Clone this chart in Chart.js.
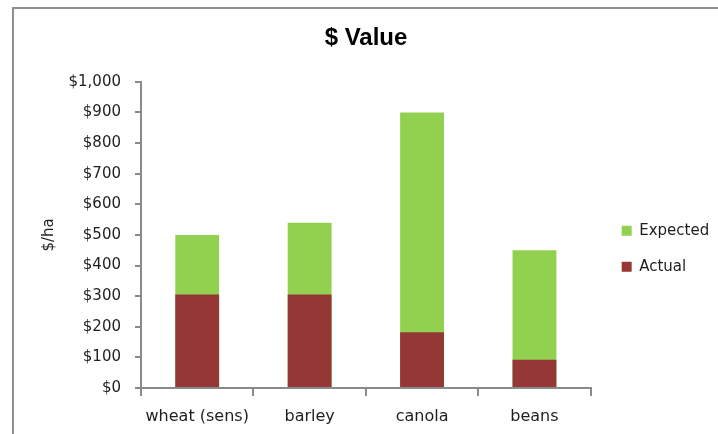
<!DOCTYPE html>
<html>
<head>
<meta charset="utf-8">
<title>$ Value</title>
<script src="https://cdn.jsdelivr.net/npm/chart.js@4"></script>
<style>
  html, body { margin: 0; padding: 0; background: #fff; overflow: hidden; }
  #frame {
    position: absolute;
    left: 12px;
    top: 7px;
    width: 720px;
    height: 440px;
    border: 2px solid #8f8f8f;
    background: #fff;
  }
  #box { width: 704px; height: 425px; }
</style>
</head>
<body>
<div id="frame">
  <div id="box"><canvas id="valueChart"></canvas></div>
</div>
<script>
const categories = ["wheat (sens)", "barley", "canola", "beans"];
const expectedValues = [500, 540, 900, 450];
const actualValues = [305, 305, 182, 92];
const yTicks = [0, 100, 200, 300, 400, 500, 600, 700, 800, 900, 1000];

let valueChart = null;

document.addEventListener("DOMContentLoaded", () => {
  initValueChart();
});

function initValueChart() {
  const el = document.getElementById("valueChart");
  if (!el) return;

  const axisGrey = "#8a8a8a";
  const textColor = "#1e1e1e";

  valueChart = new Chart(el, {
    type: "bar",
    data: {
      labels: categories,
      datasets: [
        {
          label: "Expected",
          data: expectedValues,
          backgroundColor: "#92d050",
          order: 1,
        },
        {
          label: "Actual",
          data: actualValues,
          backgroundColor: "#953735",
          order: 0, // keep actual in front of expected
        },
      ],
    },
    options: {
      responsive: true,
      maintainAspectRatio: false,
      animation: false,
      categoryPercentage: 1,
      barPercentage: 0.39,
      layout: { padding: { top: 0, right: 0, bottom: 10, left: 0 } },
      plugins: {
        title: {
          display: true,
          text: "$ Value",
          color: "#000",
          font: { family: "Liberation Sans", size: 24, weight: "bold" },
          padding: { top: 15, bottom: 29 },
        },
        legend: {
          position: "right",
          // empty title only pushes the two items down to mid height
          title: {
            display: true,
            text: "",
            font: { size: 12 },
            padding: { top: 50, bottom: 0 },
          },
          labels: {
            color: textColor,
            boxWidth: 10,
            boxHeight: 10,
            padding: 21,
            font: { family: "DejaVu Sans", size: 15 },
            sort: (a, b) => a.datasetIndex - b.datasetIndex,
          },
        },
        tooltip: { enabled: false },
      },
      scales: {
        x: {
          stacked: true,
          grid: {
            offset: true,
            drawOnChartArea: false,
            tickLength: 8,
            color: axisGrey,
            lineWidth: 2,
          },
          border: { color: axisGrey, width: 2 },
          ticks: {
            color: textColor,
            padding: 11,
            font: { family: "DejaVu Sans", size: 16 },
          },
          afterFit: (s) => { s.height = 36; },
        },
        y: {
          stacked: false,
          min: 0,
          max: 1000,
          afterBuildTicks: (s) => { s.ticks = yTicks.map((v) => ({ value: v })); },
          grid: {
            drawOnChartArea: false,
            tickLength: 6,
            color: axisGrey,
            lineWidth: 2,
          },
          border: { color: axisGrey, width: 2 },
          ticks: {
            color: textColor,
            padding: 14,
            font: { family: "DejaVu Sans", size: 15 },
            callback: (v) => "$" + Number(v).toLocaleString("en-US"),
          },
          title: {
            display: true,
            text: "$/ha",
            color: textColor,
            font: { family: "DejaVu Sans", size: 15 },
            padding: { top: 26, bottom: 0 },
          },
          afterFit: (s) => { s.width = 127; },
        },
        // empty spacer between the plot and the legend
        gap: {
          type: "linear",
          position: "right",
          display: true,
          grid: { display: false },
          border: { display: false },
          ticks: { display: false },
          afterFit: (s) => { s.width = 10; },
        },
      },
    },
  });
}
</script>
</body>
</html>
